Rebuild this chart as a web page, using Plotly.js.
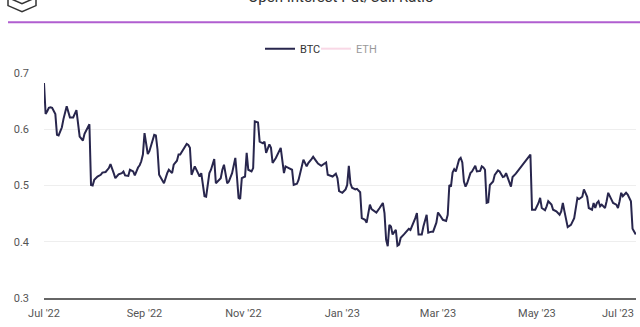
<!DOCTYPE html>
<html>
<head>
<meta charset="utf-8">
<script src="https://cdn.plot.ly/plotly-3.0.1.min.js"></script>
<style>
  html, body { margin: 0; padding: 0; background: #fff; }
  #chart { width: 640px; height: 327px; }
</style>
</head>
<body>
<div id="chart"></div>
<script>
const chartTitle = "Open Interest Put/Call Ratio";
const seriesNames = ["BTC", "ETH"];
const dates = [
  "2022-07-01","2022-07-02","2022-07-03","2022-07-04","2022-07-05","2022-07-06","2022-07-08","2022-07-09","2022-07-10","2022-07-12",
  "2022-07-13","2022-07-15","2022-07-17","2022-07-19","2022-07-21","2022-07-22","2022-07-23","2022-07-25","2022-07-26","2022-07-29",
  "2022-07-30","2022-07-31","2022-08-01","2022-08-03","2022-08-05","2022-08-06","2022-08-08","2022-08-10","2022-08-11","2022-08-13",
  "2022-08-14","2022-08-16","2022-08-18","2022-08-19","2022-08-20","2022-08-22","2022-08-23","2022-08-25","2022-08-26","2022-08-28",
  "2022-08-29","2022-08-30","2022-08-31","2022-09-01","2022-09-03","2022-09-04","2022-09-06","2022-09-07","2022-09-08","2022-09-09",
  "2022-09-10","2022-09-12","2022-09-13","2022-09-15","2022-09-16","2022-09-18","2022-09-19","2022-09-21","2022-09-22","2022-09-23",
  "2022-09-25","2022-09-26","2022-09-27","2022-09-28","2022-09-29","2022-09-30","2022-10-02","2022-10-04","2022-10-05","2022-10-06",
  "2022-10-08","2022-10-09","2022-10-11","2022-10-12","2022-10-14","2022-10-15","2022-10-16","2022-10-18","2022-10-19","2022-10-20",
  "2022-10-22","2022-10-23","2022-10-25","2022-10-27","2022-10-28","2022-10-29","2022-10-30","2022-10-31","2022-11-02","2022-11-03",
  "2022-11-04","2022-11-06","2022-11-07","2022-11-08","2022-11-10","2022-11-11","2022-11-13","2022-11-14","2022-11-15","2022-11-17",
  "2022-11-18","2022-11-19","2022-11-21","2022-11-22","2022-11-24","2022-11-26","2022-11-27","2022-11-29","2022-12-01","2022-12-02",
  "2022-12-04","2022-12-05","2022-12-07","2022-12-08","2022-12-10","2022-12-11","2022-12-13","2022-12-14","2022-12-16","2022-12-17",
  "2022-12-19","2022-12-20","2022-12-22","2022-12-23","2022-12-25","2022-12-26","2022-12-28","2022-12-29","2022-12-30","2023-01-01",
  "2023-01-03","2023-01-04","2023-01-05","2023-01-06","2023-01-07","2023-01-09","2023-01-10","2023-01-12","2023-01-13","2023-01-15",
  "2023-01-16","2023-01-17","2023-01-18","2023-01-19","2023-01-21","2023-01-22","2023-01-24","2023-01-26","2023-01-27","2023-01-28",
  "2023-01-29","2023-01-30","2023-01-31","2023-02-01","2023-02-03","2023-02-04","2023-02-05","2023-02-06","2023-02-08","2023-02-10",
  "2023-02-11","2023-02-12","2023-02-14","2023-02-15","2023-02-16","2023-02-17","2023-02-19","2023-02-20","2023-02-22","2023-02-23",
  "2023-02-25","2023-02-26","2023-02-28","2023-03-01","2023-03-02","2023-03-04","2023-03-06","2023-03-07","2023-03-08","2023-03-09",
  "2023-03-10","2023-03-11","2023-03-12","2023-03-14","2023-03-15","2023-03-16","2023-03-17","2023-03-18","2023-03-19","2023-03-21",
  "2023-03-22","2023-03-24","2023-03-25","2023-03-27","2023-03-28","2023-03-29","2023-03-30","2023-03-31","2023-04-01","2023-04-02",
  "2023-04-04","2023-04-05","2023-04-07","2023-04-08","2023-04-10","2023-04-11","2023-04-12","2023-04-14","2023-04-15","2023-04-16",
  "2023-04-18","2023-04-27","2023-04-28","2023-04-29","2023-04-30","2023-05-02","2023-05-03","2023-05-04","2023-05-06","2023-05-07",
  "2023-05-08","2023-05-10","2023-05-11","2023-05-13","2023-05-15","2023-05-16","2023-05-17","2023-05-18","2023-05-19","2023-05-20",
  "2023-05-22","2023-05-23","2023-05-24","2023-05-26","2023-05-27","2023-05-29","2023-05-30","2023-06-01","2023-06-02","2023-06-04",
  "2023-06-05","2023-06-06","2023-06-07","2023-06-08","2023-06-09","2023-06-10","2023-06-11","2023-06-12","2023-06-13","2023-06-14",
  "2023-06-16","2023-06-17","2023-06-19","2023-06-20","2023-06-21","2023-06-22","2023-06-23","2023-06-25","2023-06-26","2023-06-27",
  "2023-06-28","2023-06-29","2023-07-01"
];
const btcRatio = [
  0.682,0.627,0.632,0.638,0.639,0.638,0.627,0.590,0.589,0.603,
  0.618,0.641,0.621,0.621,0.634,0.608,0.587,0.580,0.592,0.609,
  0.501,0.500,0.510,0.516,0.519,0.523,0.524,0.531,0.538,0.522,
  0.513,0.520,0.522,0.525,0.518,0.517,0.528,0.525,0.518,0.532,
  0.536,0.543,0.555,0.593,0.556,0.561,0.581,0.590,0.589,0.564,
  0.519,0.510,0.504,0.522,0.528,0.522,0.537,0.544,0.555,0.555,
  0.564,0.570,0.574,0.572,0.567,0.519,0.534,0.522,0.516,0.522,
  0.481,0.480,0.522,0.528,0.547,0.504,0.507,0.513,0.528,0.537,
  0.504,0.507,0.522,0.549,0.516,0.478,0.476,0.513,0.516,0.558,
  0.528,0.525,0.531,0.614,0.612,0.578,0.575,0.578,0.558,0.573,
  0.567,0.540,0.549,0.555,0.567,0.522,0.534,0.531,0.528,0.501,
  0.503,0.510,0.534,0.546,0.534,0.540,0.547,0.551,0.543,0.539,
  0.535,0.537,0.541,0.519,0.516,0.516,0.521,0.513,0.490,0.487,
  0.493,0.501,0.535,0.504,0.496,0.493,0.494,0.488,0.442,0.439,
  0.434,0.448,0.466,0.458,0.454,0.452,0.460,0.469,0.451,0.404,
  0.392,0.430,0.427,0.413,0.421,0.393,0.395,0.407,0.413,0.421,
  0.423,0.421,0.433,0.442,0.451,0.413,0.413,0.427,0.448,0.416,
  0.418,0.418,0.434,0.452,0.448,0.439,0.437,0.448,0.501,0.498,
  0.523,0.529,0.525,0.546,0.549,0.541,0.507,0.498,0.504,0.522,
  0.525,0.535,0.525,0.526,0.534,0.532,0.528,0.469,0.470,0.501,
  0.507,0.519,0.527,0.525,0.515,0.516,0.522,0.504,0.498,0.515,
  0.521,0.555,0.457,0.457,0.457,0.469,0.478,0.460,0.456,0.463,
  0.472,0.466,0.457,0.454,0.448,0.454,0.469,0.454,0.436,0.426,
  0.430,0.436,0.442,0.478,0.476,0.480,0.493,0.480,0.460,0.457,
  0.469,0.460,0.469,0.472,0.463,0.466,0.463,0.460,0.472,0.487,
  0.475,0.469,0.466,0.460,0.472,0.487,0.481,0.487,0.484,0.478,
  0.472,0.423,0.413
];
// ETH is hidden (legend-only) in the reference; no values are shown
const ethDates = [null];
const ethRatio = [null];
const xTickVals = ["2022-07-01","2022-09-01","2022-11-01","2023-01-01","2023-03-01","2023-05-01","2023-07-01"];
const xTickText = ["Jul '22","Sep '22","Nov '22","Jan '23","Mar '23","May '23","Jul '23"];
const xRange = ["2022-07-01", "2023-07-01 03:00"];
const yTicks = [0.3, 0.4, 0.5, 0.6, 0.7];

// layout geometry (pixels) for decorations
const W = 640, H = 327;
const M = { l: 44, r: 4, t: 73.3, b: 29 };
const pw = W - M.l - M.r, ph = H - M.t - M.b;
const px = x => (x - M.l) / pw;
const py = y => (H - M.b - y) / ph;

// the last tick label sits right-aligned at the plot edge (drawn as annotation)
const lastIdx = xTickText.length - 1;
const shownTickText = xTickText.map((t, i) => i === lastIdx ? "" : t);

const logoPts = [[22,-9],[36,-2],[36,6],[22,12],[8,6],[8,-2]];
const logoPath = "M" + logoPts.map(p => px(p[0]) + "," + py(p[1])).join(" L") + " Z " +
  "M" + px(8) + "," + py(-2) + " L" + px(22) + "," + py(4) + " L" + px(36) + "," + py(-2);

const traces = [
  {
    type: "scatter", mode: "lines", name: seriesNames[0],
    x: dates, y: btcRatio, legend: "legend",
    line: { color: "#28264d", width: 2 },
    hoverinfo: "skip"
  },
  {
    type: "scatter", mode: "lines", name: seriesNames[1],
    x: ethDates, y: ethRatio, visible: "legendonly", legend: "legend2",
    line: { color: "#f4b3cf", width: 2 }
  }
];

const legendBase = {
  orientation: "h", y: py(49), xanchor: "left", yanchor: "middle",
  font: { size: 11, color: "#333" }, itemwidth: 30, bgcolor: "rgba(0,0,0,0)"
};

const layout = {
  width: W, height: H,
  margin: M,
  paper_bgcolor: "#fff", plot_bgcolor: "#fff",
  font: { family: "Roboto, 'Noto Sans', sans-serif", size: 11, color: "#555" },
  showlegend: true,
  legend: Object.assign({}, legendBase, { x: px(260) }),
  legend2: Object.assign({}, legendBase, { x: px(316) }),
  xaxis: {
    type: "date", range: xRange,
    tickmode: "array", tickvals: xTickVals, ticktext: shownTickText,
    showgrid: false, zeroline: false,
    showline: true, linecolor: "#666", linewidth: 1.5,
    ticks: "", ticklabelstandoff: 4,
    tickfont: { size: 11, color: "#555" }
  },
  yaxis: {
    range: [0.3, 0.7], tickvals: yTicks, tickformat: ".1f",
    showgrid: true, gridcolor: "#eeeeee", gridwidth: 1,
    zeroline: false, showline: false, ticks: "",
    ticklabelstandoff: 14,
    tickfont: { size: 11, color: "#555" }
  },
  annotations: [
    {
      text: chartTitle, xref: "paper", yref: "paper",
      x: px(340), y: py(-3), xanchor: "center", yanchor: "middle",
      showarrow: false, font: { size: 15, color: "#333" }
    },
    {
      text: xTickText[lastIdx], xref: "x", yref: "paper",
      x: xTickVals[lastIdx], y: py(313), xanchor: "right", yanchor: "middle",
      showarrow: false, font: { size: 11, color: "#555" }
    }
  ],
  shapes: [
    {
      type: "line", xref: "paper", yref: "paper",
      x0: px(8), x1: px(640), y0: py(22.5), y1: py(22.5),
      line: { color: "#b05ed0", width: 2 }
    },
    {
      type: "path", xref: "paper", yref: "paper", path: logoPath,
      line: { color: "#333", width: 1.5 }
    }
  ]
};

Plotly.newPlot("chart", traces, layout, { staticPlot: true, displayModeBar: false });
</script>
</body>
</html>
